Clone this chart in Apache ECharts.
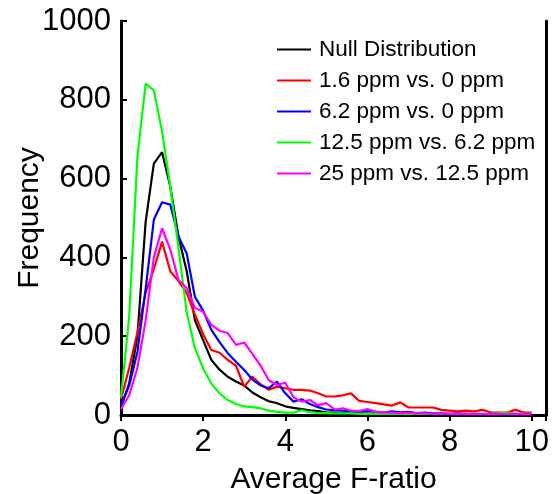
<!DOCTYPE html>
<html>
<head>
<meta charset="utf-8">
<script src="https://cdn.jsdelivr.net/npm/echarts@6/dist/echarts.min.js"></script>
<style>html,body{margin:0;padding:0;background:#fff;}#c{width:553px;height:494px;}</style>
</head>
<body>
<div id="c"></div>
<script>
var fRatio = [0,0.2,0.4,0.6,0.8,1.0,1.2,1.4,1.6,1.8,2.0,2.2,2.4,2.6,2.8,3.0,3.2,3.4,3.6,3.8,4.0,4.2,4.4,4.6,4.8,5.0,5.2,5.4,5.6,5.8,6.0,6.2,6.4,6.6,6.8,7.0,7.2,7.4,7.6,7.8,8.0,8.2,8.4,8.6,8.8,9.0,9.2,9.4,9.6,9.8,10.0];
var seriesNames = ["Null Distribution","1.6 ppm vs. 0 ppm","6.2 ppm vs. 0 ppm","12.5 ppm vs. 6.2 ppm","25 ppm vs. 12.5 ppm"];
var nullDist = [20,80,200,490,638,667,580,453,365,240,190,140,115,97,85,75,57,45,35,30,22,18,15,12,10,7,6,5,4,4,3,3,2,2,2,1,1,1,1,1,1,1,1,1,1,1,1,1,1,1,1];
var ppm16 = [40,120,210,310,370,440,365,340,310,255,205,165,158,140,125,72,97,78,64,72,68,64,64,62,55,47,47,50,55,36,33,30,27,24,32,19,19,19,19,13,11,9,11,9,13,7,6,6,13,7,6];
var ppm62 = [25,75,160,320,496,540,534,453,410,300,265,216,185,157,135,114,90,75,68,85,55,34,40,28,20,14,12,11,9,8,10,8,6,9,7,8,5,6,4,4,3,4,3,3,2,3,2,2,3,2,2];
var ppm125 = [45,250,656,841,824,720,580,424,260,170,118,80,55,38,28,22,20,17,11,8,6,6,12,7,5,5,4,4,4,3,3,3,3,3,3,3,3,3,3,3,3,3,3,3,3,3,4,6,3,3,3];
var ppm25 = [15,50,120,240,400,474,420,343,322,272,262,229,214,208,178,184,155,125,88,76,82,45,34,38,25,30,14,17,11,10,15,8,6,6,5,6,4,4,3,3,3,2,3,2,2,2,2,2,2,2,2];
var colors = ["#000000","#ff0000","#0000ff","#00ff00","#ff00ff"];
var xTicks = [0,2,4,6,8,10];
var yTicks = [0,200,400,600,800,1000];

var allData = [nullDist, ppm16, ppm62, ppm125, ppm25];
var font = "'Liberation Sans', Arial, sans-serif";
var chart = echarts.init(document.getElementById('c'));
var series = allData.map(function(arr, k){
  return {
    name: seriesNames[k], type: 'line', showSymbol: false, symbol: 'none',
    lineStyle: {width: 2.2, color: colors[k]}, itemStyle: {color: colors[k]},
    data: arr.map(function(v, i){ return [fRatio[i], v]; }),
    animation: false
  };
});
chart.setOption({
  animation: false,
  grid: {left: 121, right: 7, top: 21, bottom: 79, containLabel: false, outerBoundsMode: 'none'},
  legend: {
    orient: 'vertical', left: 272, top: 33, itemWidth: 34, itemHeight: 2, itemGap: 8,
    icon: 'rect',
    textStyle: {fontFamily: font, fontSize: 22.5, color: '#000', lineHeight: 22, padding: [0,0,0,3]},
    data: seriesNames
  },
  xAxis: {
    type: 'value', min: 0, max: 10.35, interval: 2,
    name: 'Average F-ratio', nameLocation: 'middle', nameGap: 50, nameMoveOverlap: false,
    nameTextStyle: {fontFamily: font, fontSize: 30, color: '#000'},
    axisLine: {show: true, lineStyle: {color: '#000', width: 3}},
    axisTick: {show: true, inside: false, length: 6, lineStyle: {width: 2, color: '#000'}},
    axisLabel: {fontFamily: font, fontSize: 31, color: '#000', margin: 12,
      formatter: function(v){ return xTicks.indexOf(v) >= 0 ? String(v) : ''; }},
    splitLine: {show: false}
  },
  yAxis: [{
    type: 'value', min: 0, max: 1000, interval: 200,
    name: 'Frequency', nameLocation: 'middle', nameGap: 76, nameMoveOverlap: false,
    nameTextStyle: {fontFamily: font, fontSize: 30, color: '#000'},
    axisLine: {show: true, lineStyle: {color: '#000', width: 3}},
    axisTick: {show: true, inside: true, length: 6, lineStyle: {width: 2, color: '#000'}},
    axisLabel: {fontFamily: font, fontSize: 31, color: '#000', margin: 10,
      formatter: function(v){ return yTicks.indexOf(v) >= 0 ? String(v) : ''; }},
    splitLine: {show: false}
  }, {
    type: 'value', min: 0, max: 1000, position: 'right',
    axisLine: {show: true, onZero: false, lineStyle: {color: '#000', width: 3}},
    axisTick: {show: false}, axisLabel: {show: false}, splitLine: {show: false}
  }],
  series: series
});
</script>
</body>
</html>
